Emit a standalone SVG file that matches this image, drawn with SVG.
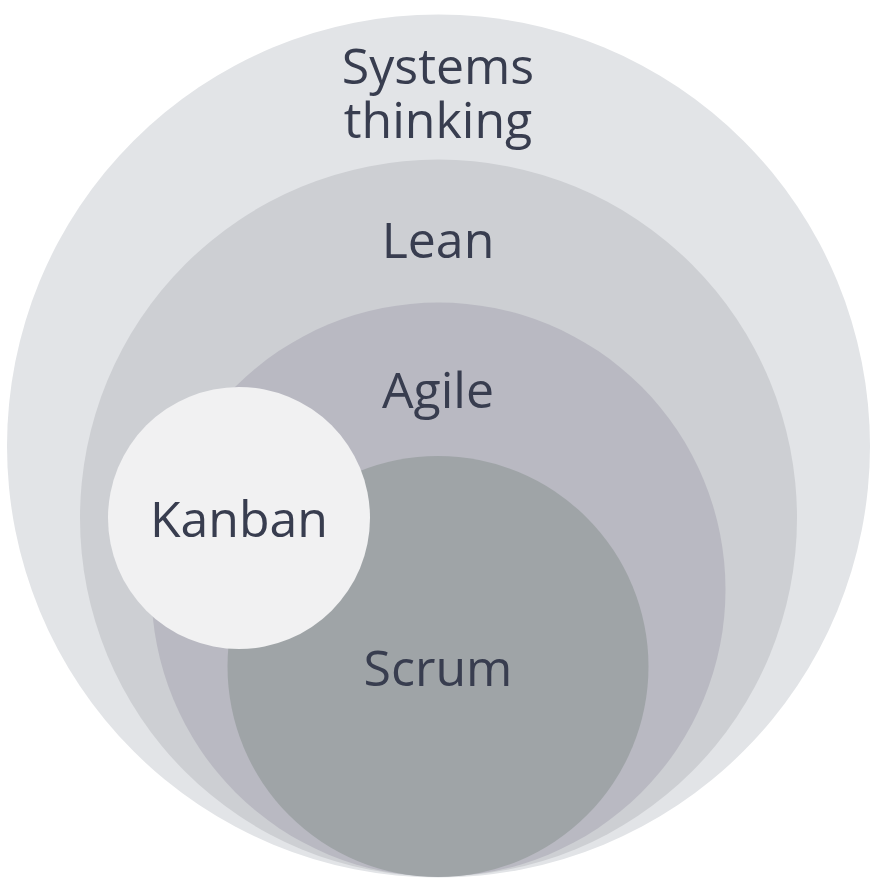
<svg xmlns="http://www.w3.org/2000/svg" width="892" height="892" viewBox="0 0 892 892">
<style>
.lbl{font-family:"Open Sans","Noto Sans","Liberation Sans",sans-serif;font-size:50px;fill:#383d4f;text-anchor:middle}
</style>
<rect width="892" height="892" fill="#ffffff"/>
<g id="systems-thinking">
<circle cx="438.5" cy="446" r="431.5" fill="#e2e4e7"/>
<text class="lbl" x="438" y="84">Systems</text>
<text class="lbl" x="438" y="138">thinking</text>
</g>
<g id="lean">
<circle cx="438.5" cy="518" r="358.5" fill="#cdcfd3"/>
<text class="lbl" x="438" y="258">Lean</text>
</g>
<g id="agile">
<circle cx="438.5" cy="589.5" r="287" fill="#b9b9c2"/>
<text class="lbl" x="438" y="408">Agile</text>
</g>
<g id="scrum">
<circle cx="438" cy="666.5" r="210.5" fill="#9fa4a7"/>
<text class="lbl" x="438" y="686">Scrum</text>
</g>
<g id="kanban">
<circle cx="239" cy="518" r="131" fill="#f1f1f2"/>
<text class="lbl" x="239" y="537">Kanban</text>
</g>
<g id="connectors"/>
</svg>
